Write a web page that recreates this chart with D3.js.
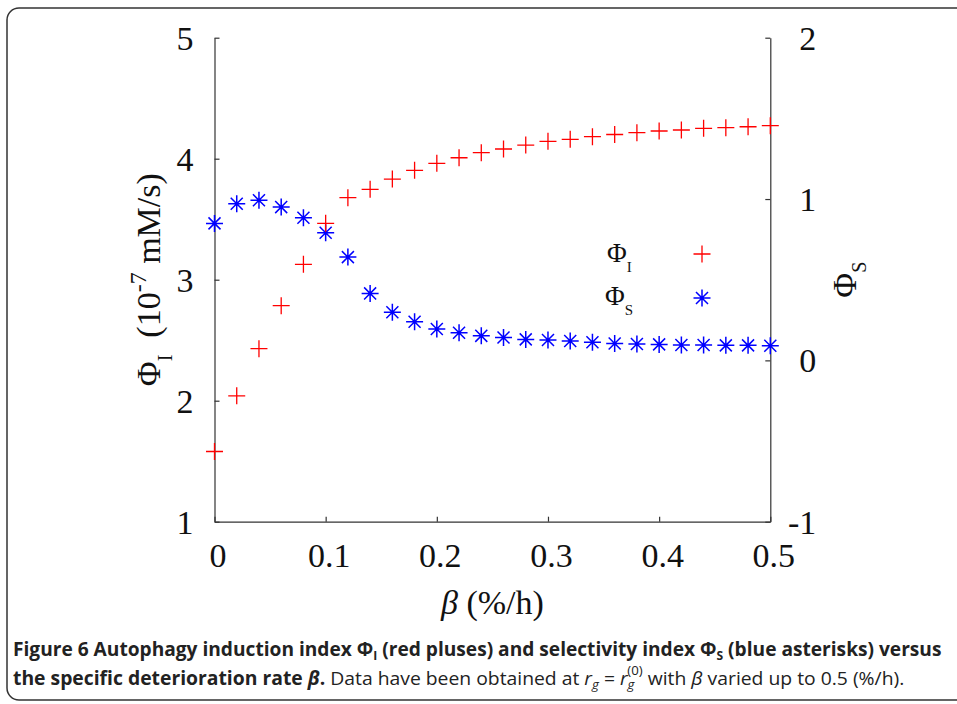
<!DOCTYPE html>
<html>
<head>
<meta charset="utf-8">
<script src="https://cdn.jsdelivr.net/npm/d3@7"></script>
<style>
  body { margin: 0; background: #fff; }
  svg { display: block; }
</style>
</head>
<body>
<svg id="chart" width="957" height="704"></svg>
<script>
// data
var beta = [0, 0.02, 0.04, 0.06, 0.08, 0.10, 0.12, 0.14, 0.16, 0.18, 0.20, 0.22, 0.24,
            0.26, 0.28, 0.30, 0.32, 0.34, 0.36, 0.38, 0.40, 0.42, 0.44, 0.46, 0.48, 0.50]
var phiI = [1.58, 2.04, 2.43, 2.785, 3.127, 3.466, 3.678, 3.747, 3.832, 3.904, 3.962, 4.008, 4.05,
            4.08, 4.113, 4.144, 4.16, 4.182, 4.2, 4.215, 4.229, 4.237, 4.251, 4.256, 4.264, 4.273]
var phiS = [0.849, 0.971, 0.992, 0.950, 0.884, 0.791, 0.640, 0.415, 0.298, 0.239, 0.194, 0.171, 0.152,
            0.142, 0.130, 0.126, 0.120, 0.112, 0.105, 0.101, 0.099, 0.095, 0.095, 0.093, 0.093, 0.091]
var xTicks = [0, 0.1, 0.2, 0.3, 0.4, 0.5]
var yLeftTicks = [1, 2, 3, 4, 5]
var yRightTicks = [-1, 0, 1, 2]

var svg = d3.select("#chart")
var serif = "'Liberation Serif', 'Times New Roman', serif"
var axisCol = "#333"

// frame around the figure
svg.append("rect")
  .attr("x", 7).attr("y", 8)
  .attr("width", 1000).attr("height", 692)
  .attr("rx", 12)
  .style("fill", "none").style("stroke", "#333").style("stroke-width", 1.5)

// plot box (window.top is reserved, so p* names)
var pL = 214.5, pR = 770.3, pT = 37.7, pB = 521.7

var x = d3.scaleLinear().domain([0, 0.5]).range([pL, pR])
var yL = d3.scaleLinear().domain([1, 5]).range([pB, pT])
var yR = d3.scaleLinear().domain([-1, 2]).range([pB, pT])

function styleAxis(g){
  g.selectAll("path").style("stroke", axisCol).style("stroke-width", 1.2)
  g.selectAll("line").style("stroke", axisCol).style("stroke-width", 1.2)
  g.selectAll("text").style("font-family", serif).style("font-size", "34px").style("fill", "#111")
}

var gx = svg.append("g").attr("transform", "translate(0," + pB + ")")
  .call(d3.axisBottom(x).tickValues(xTicks).tickSize(-5).tickSizeOuter(0)
    .tickPadding(21).tickFormat(d => String(d)))
  .call(styleAxis)
gx.selectAll("text").attr("dx", 3)

var gl = svg.append("g").attr("transform", "translate(" + pL + ",0)")
  .call(d3.axisLeft(yL).tickValues(yLeftTicks).tickSize(-5).tickSizeOuter(0)
    .tickPadding(21).tickFormat(d => String(d)))
  .call(styleAxis)
gl.selectAll("text").attr("dy", "0.34em")

var gr = svg.append("g").attr("transform", "translate(" + pR + ",0)")
  .call(d3.axisRight(yR).tickValues(yRightTicks).tickSize(-5).tickSizeOuter(0)
    .tickPadding(46).tickFormat(d => String(d)))
  .call(styleAxis)
gr.selectAll("text").attr("text-anchor", "end").attr("dy", "0.34em")

// markers
function plusPath(s){ return "M" + (-s) + ",0H" + s + "M0," + (-s) + "V" + s }
function starPath(s){
  var d = s * 0.7071
  return plusPath(s) + "M" + (-d) + "," + (-d) + "L" + d + "," + d + "M" + (-d) + "," + d + "L" + d + "," + (-d)
}

var pts = beta.map(function(b, i){ return {b: b, i: phiI[i], s: phiS[i]} })

svg.append("g").selectAll("path.st").data(pts).enter()
  .append("path").attr("class", "st")
  .attr("transform", d => "translate(" + x(d.b) + "," + yR(d.s) + ")")
  .attr("d", starPath(8.5))
  .style("fill", "none").style("stroke", "#0000ff").style("stroke-width", 1.5)

svg.append("g").selectAll("path.pl").data(pts).enter()
  .append("path").attr("class", "pl")
  .attr("transform", d => "translate(" + x(d.b) + "," + yL(d.i) + ")")
  .attr("d", plusPath(8.5))
  .style("fill", "none").style("stroke", "#ff0000").style("stroke-width", 1.3)

// legend
var leg = svg.append("g").style("font-family", serif).style("fill", "#111")
var t1 = leg.append("text").attr("x", 607).attr("y", 262).style("font-size", "27px")
t1.append("tspan").text("Φ")
t1.append("tspan").attr("dy", 10).style("font-size", "15px").text("I")
var t2 = leg.append("text").attr("x", 605).attr("y", 305).style("font-size", "27px")
t2.append("tspan").text("Φ")
t2.append("tspan").attr("dy", 10).style("font-size", "15px").text("S")
leg.append("path").attr("transform", "translate(702,254)").attr("d", plusPath(8.5))
  .style("fill", "none").style("stroke", "#ff0000").style("stroke-width", 1.3)
leg.append("path").attr("transform", "translate(702,298)").attr("d", starPath(8.5))
  .style("fill", "none").style("stroke", "#0000ff").style("stroke-width", 1.5)

// axis titles
var xt = svg.append("text").attr("x", (pL + pR) / 2).attr("y", 614)
  .attr("text-anchor", "middle").style("font-family", serif).style("font-size", "34px").style("fill", "#111")
xt.append("tspan").style("font-style", "italic").text("β")
xt.append("tspan").text(" (%/h)")

var ylt = svg.append("text").attr("transform", "translate(160," + ((pT + pB) / 2) + ") rotate(-90)")
  .attr("text-anchor", "middle").style("font-family", serif).style("font-size", "34px").style("fill", "#111")
ylt.append("tspan").text("Φ")
ylt.append("tspan").attr("dy", 12).style("font-size", "20px").text("I")
ylt.append("tspan").attr("dy", -12).text("\u00a0\u00a0(10")
ylt.append("tspan").attr("dy", -14).style("font-size", "24px").text("-7")
ylt.append("tspan").attr("dy", 14).text(" mM/s)")

var yrt = svg.append("text").attr("transform", "translate(856," + ((pT + pB) / 2) + ") rotate(-90)")
  .attr("text-anchor", "middle").style("font-family", serif).style("font-size", "34px").style("fill", "#111")
yrt.append("tspan").text("Φ")
yrt.append("tspan").attr("dy", 10).style("font-size", "20px").text("S")

// caption, squeezed to the width of the condensed original
var sans = "'Open Sans', 'Noto Sans', sans-serif"
function fitWidth(sel, x0, w){
  var bw = sel.node().getBBox().width
  sel.attr("transform", "translate(" + x0 + ",0) scale(" + (w / bw) + ",1)")
}

var c1 = svg.append("text").attr("x", 0).attr("y", 656)
  .style("font-family", sans).style("font-size", "19px").style("font-weight", "bold").style("fill", "#222")
c1.append("tspan").text("Figure 6 Autophagy induction index Φ")
c1.append("tspan").attr("dy", 4).style("font-size", "12px").text("I")
c1.append("tspan").attr("dy", -4).text(" (red pluses) and selectivity index Φ")
c1.append("tspan").attr("dy", 4).style("font-size", "12px").text("S")
c1.append("tspan").attr("dy", -4).text(" (blue asterisks) versus")
fitWidth(c1, 13, 929)

var c2 = svg.append("text").attr("x", 0).attr("y", 685)
  .style("font-family", sans).style("font-size", "19px").style("fill", "#222")
c2.append("tspan").style("font-weight", "bold").text("the specific deterioration rate ")
c2.append("tspan").style("font-weight", "bold").style("font-style", "italic").text("β")
c2.append("tspan").style("font-weight", "bold").text(".")
c2.append("tspan").text(" Data have been obtained at ")
c2.append("tspan").style("font-style", "italic").text("r")
c2.append("tspan").attr("dy", 4).style("font-size", "13px").style("font-style", "italic").text("g")
c2.append("tspan").attr("dy", -4).text(" = ")
c2.append("tspan").style("font-style", "italic").text("r")
c2.append("tspan").attr("dy", 4).style("font-size", "13px").style("font-style", "italic").text("g")
c2.append("tspan").attr("dx", -7).attr("dy", -14).style("font-size", "13px").text("(0)")
c2.append("tspan").attr("dy", 10).text(" with ")
c2.append("tspan").style("font-style", "italic").text("β")
c2.append("tspan").text(" varied up to 0.5 (%/h).")
fitWidth(c2, 13, 892)
</script>
</body>
</html>
